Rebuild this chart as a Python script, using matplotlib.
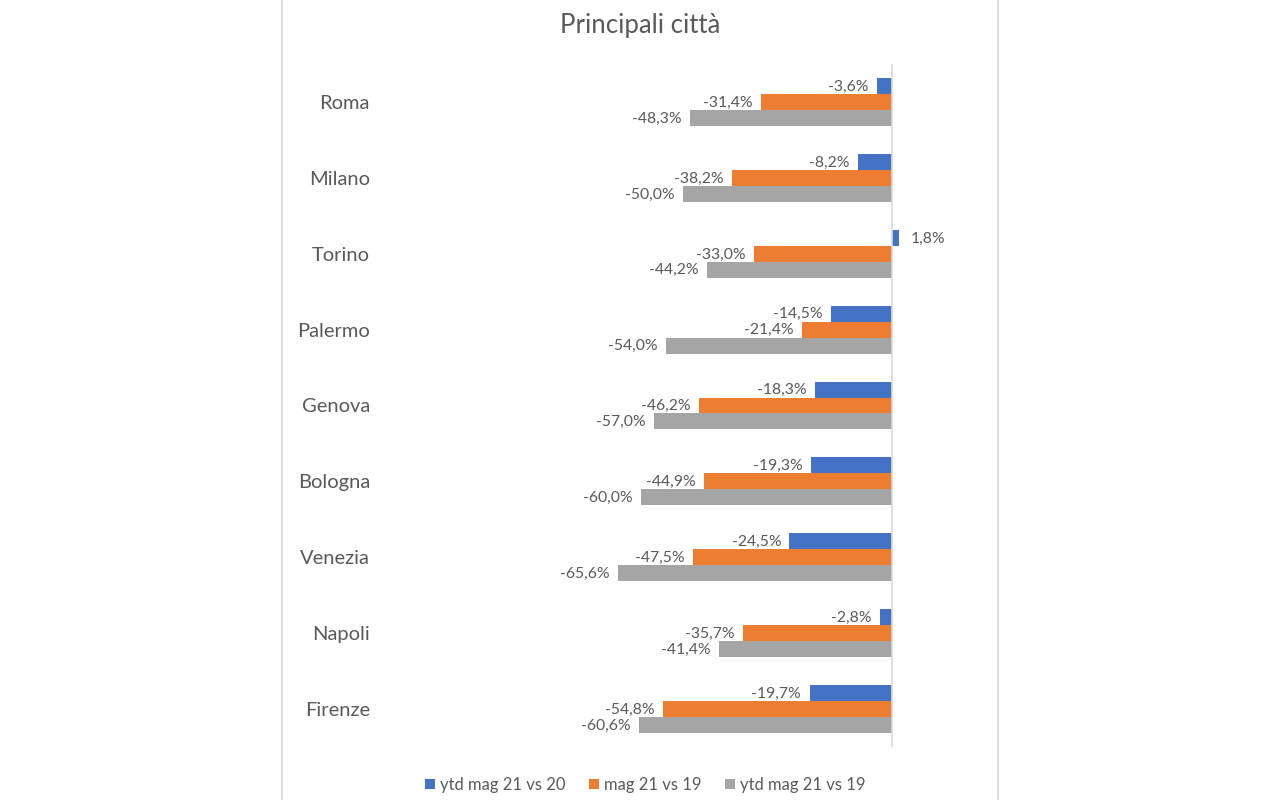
import matplotlib.pyplot as plt
import numpy as np
from matplotlib.patches import Rectangle

plt.rcParams['font.family'] = ['Lato', 'DejaVu Sans']

cities = ['Roma', 'Milano', 'Torino', 'Palermo', 'Genova',
          'Bologna', 'Venezia', 'Napoli', 'Firenze']
ytd_21_vs_20 = [-3.6, -8.2, 1.8, -14.5, -18.3, -19.3, -24.5, -2.8, -19.7]
mag_21_vs_19 = [-31.4, -38.2, -33.0, -21.4, -46.2, -44.9, -47.5, -35.7, -54.8]
ytd_21_vs_19 = [-48.3, -50.0, -44.2, -54.0, -57.0, -60.0, -65.6, -41.4, -60.6]

series = [
    ('ytd mag 21 vs 20', ytd_21_vs_20, '#4472C4'),
    ('mag 21 vs 19', mag_21_vs_19, '#ED7D31'),
    ('ytd mag 21 vs 19', ytd_21_vs_19, '#A5A5A5'),
]

text_col = '#595959'

fig = plt.figure(figsize=(12.8, 8), dpi=100)
ax = fig.add_axes([381 / 1280, 53 / 800, 610 / 1280, 683 / 800])

y = np.arange(len(cities))
h = 0.21
for k, (name, vals, col) in enumerate(series):
    pos = y + (k - 1) * h
    ax.barh(pos, vals, height=h, color=col, label=name, zorder=2)
    for yy, v in zip(pos, vals):
        lab = f"{v:.1f}%".replace('.', ',')
        if v < 0:
            ax.annotate(lab, (v, yy), xytext=(-6, -0.5), textcoords='offset points',
                        ha='right', va='center', fontsize=11.3, color=text_col)
        else:
            ax.annotate(lab, (v, yy), xytext=(8, -0.5), textcoords='offset points',
                        ha='left', va='center', fontsize=11.3, color=text_col)

ax.axvline(0, color='#d9d9d9', lw=1.2, zorder=3)
ax.set_xlim(-122.2, 23.7)
ax.set_ylim(len(cities) - 0.5, -0.5)
ax.set_yticks(y)
ax.set_yticklabels(cities, fontsize=14.5, color=text_col)
ax.tick_params(axis='y', length=0, pad=8)
ax.set_xticks([])
for s in ax.spines.values():
    s.set_visible(False)

fig.text(0.5, 1 - 25 / 800, 'Principali città', ha='center', va='center',
         fontsize=18.5, color=text_col)

fig.legend(loc='center', bbox_to_anchor=(0.504, 1 - 785 / 800), ncol=3,
           frameon=False, fontsize=12, handlelength=0.6, handleheight=0.6,
           handletextpad=0.3, columnspacing=1.4, labelcolor=text_col)

fig.add_artist(Rectangle((282 / 1280, -0.01), (998 - 282) / 1280, 1.02,
                         transform=fig.transFigure, fill=False,
                         edgecolor='#d9d9d9', lw=1.2))

fig.savefig('out.png', dpi=100)
